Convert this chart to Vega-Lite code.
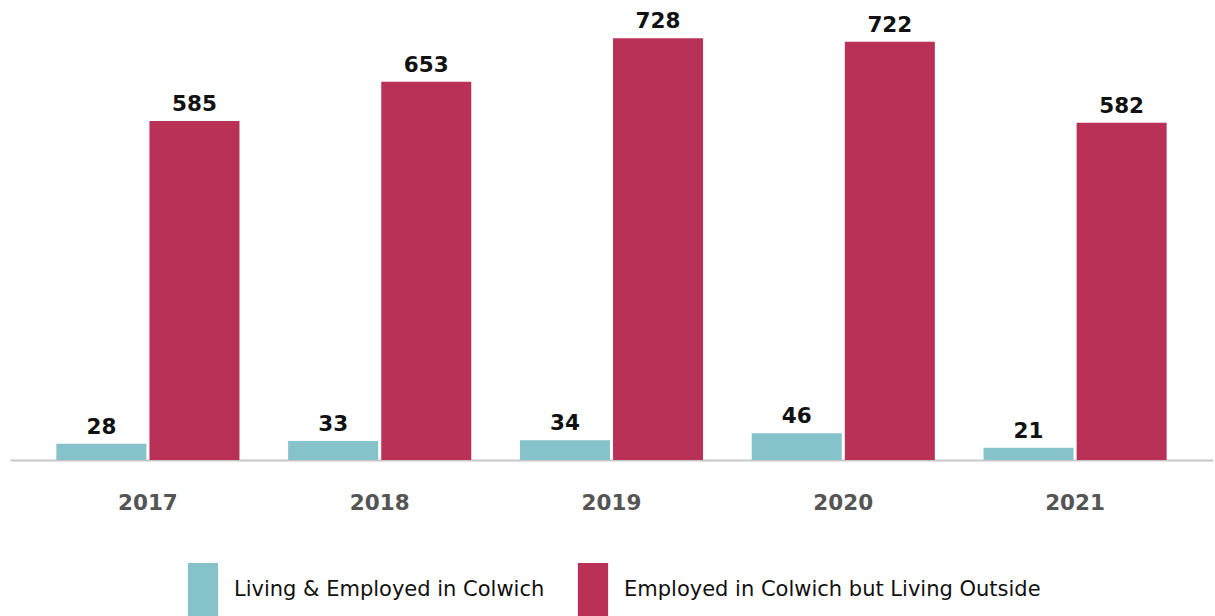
{
  "$schema": "https://vega.github.io/schema/vega-lite/v6.json",
  "autosize": "none",
  "width": 1203,
  "height": 460,
  "padding": {"left": 10, "top": 0, "right": 2, "bottom": 156},
  "background": "white",
  "config": {"view": {"stroke": null}, "font": "DejaVu Sans"},
  "data": {"values": [
    {"year": "2017", "series": "Living & Employed in Colwich", "value": 28},
    {"year": "2017", "series": "Employed in Colwich but Living Outside", "value": 585},
    {"year": "2018", "series": "Living & Employed in Colwich", "value": 33},
    {"year": "2018", "series": "Employed in Colwich but Living Outside", "value": 653},
    {"year": "2019", "series": "Living & Employed in Colwich", "value": 34},
    {"year": "2019", "series": "Employed in Colwich but Living Outside", "value": 728},
    {"year": "2020", "series": "Living & Employed in Colwich", "value": 46},
    {"year": "2020", "series": "Employed in Colwich but Living Outside", "value": 722},
    {"year": "2021", "series": "Living & Employed in Colwich", "value": 21},
    {"year": "2021", "series": "Employed in Colwich but Living Outside", "value": 582}
  ]},
  "encoding": {
    "x": {
      "field": "year", "type": "nominal",
      "scale": {"paddingInner": 0.21, "paddingOuter": 0.2},
      "axis": {
        "title": null, "labelAngle": 0, "ticks": false, "tickSize": 0,
        "domainColor": "#c8c8c8", "domainWidth": 2,
        "labelFont": "DejaVu Sans", "labelFontWeight": "bold", "labelFontSize": 21.5,
        "labelColor": "#555555", "labelPadding": 32, "grid": false
      }
    },
    "xOffset": {
      "field": "series", "type": "nominal",
      "sort": ["Living & Employed in Colwich", "Employed in Colwich but Living Outside"],
      "scale": {"paddingInner": 0.033, "paddingOuter": 0}
    },
    "y": {
      "field": "value", "type": "quantitative",
      "scale": {"domain": [0, 794], "nice": false},
      "axis": null
    }
  },
  "layer": [
    {
      "mark": {"type": "bar"},
      "encoding": {
        "color": {
          "field": "series", "type": "nominal",
          "scale": {
            "domain": ["Living & Employed in Colwich", "Employed in Colwich but Living Outside"],
            "range": ["#86c2c9", "#b93156"]
          },
          "legend": {
            "title": null,
            "orient": "none",
            "direction": "horizontal",
            "legendX": 166,
            "legendY": 563,
            "symbolType": "M-0.56,-1H0.56V1H-0.56Z",
            "symbolSize": 2916,
            "symbolStrokeWidth": 0,
            "symbolOpacity": 1,
            "labelFont": "DejaVu Sans",
            "labelFontSize": 21,
            "labelColor": "#111111",
            "labelOffset": 4,
            "columnPadding": 21,
            "labelLimit": 600
          }
        }
      }
    },
    {
      "mark": {"type": "text", "baseline": "alphabetic", "dy": -10, "font": "DejaVu Sans", "fontWeight": "bold", "fontSize": 21.5, "color": "#111111"},
      "encoding": {"text": {"field": "value", "type": "quantitative"}}
    }
  ]
}
